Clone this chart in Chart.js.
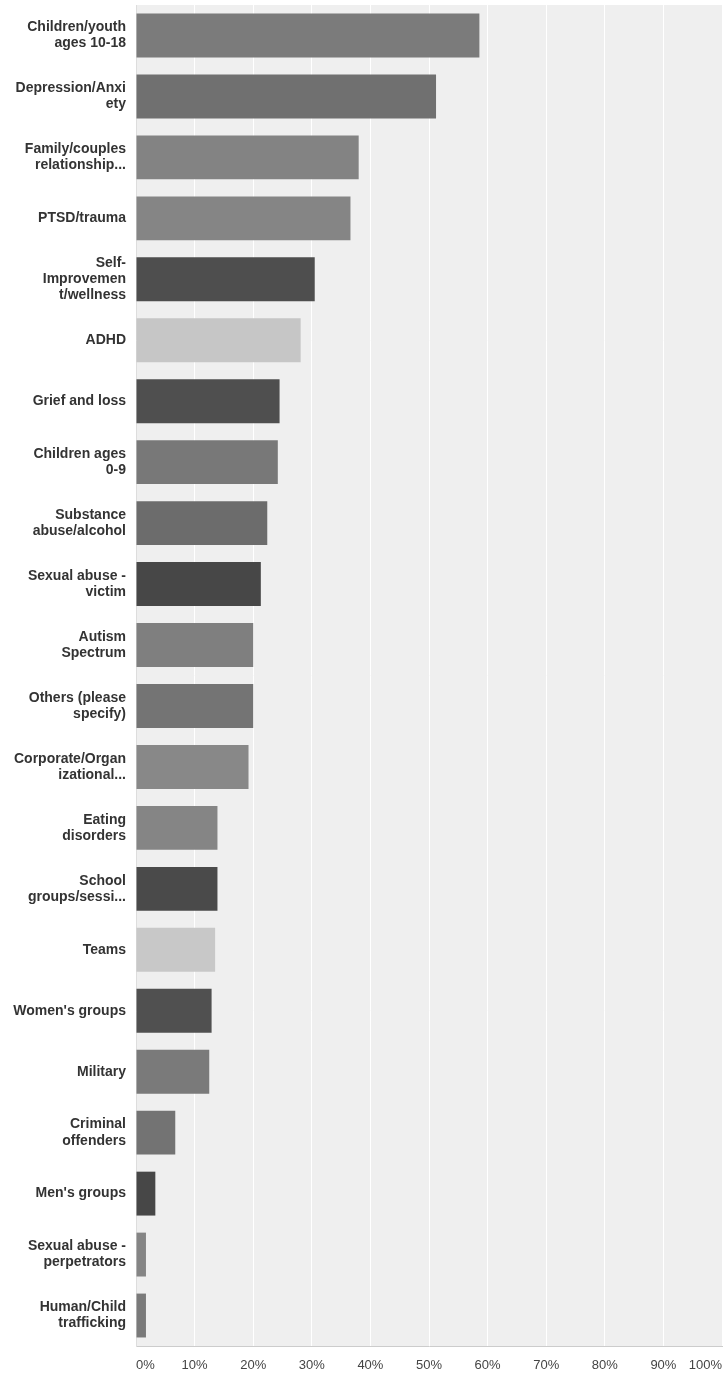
<!DOCTYPE html>
<html>
<head>
<meta charset="utf-8">
<script src="https://cdn.jsdelivr.net/npm/chart.js@4"></script>
<style>
  html, body { margin: 0; padding: 0; background: #ffffff; }
  #wrap { width: 723px; height: 1377px; position: relative; }
</style>
</head>
<body>
<div id="wrap"><canvas id="c"></canvas></div>
<script>
const categories = [
  ["Children/youth", "ages 10-18"],
  ["Depression/Anxi", "ety"],
  ["Family/couples", "relationship..."],
  "PTSD/trauma",
  ["Self-", "Improvemen", "t/wellness"],
  "ADHD",
  "Grief and loss",
  ["Children ages", "0-9"],
  ["Substance", "abuse/alcohol"],
  ["Sexual abuse -", "victim"],
  ["Autism", "Spectrum"],
  ["Others (please", "specify)"],
  ["Corporate/Organ", "izational..."],
  ["Eating", "disorders"],
  ["School", "groups/sessi..."],
  "Teams",
  "Women's groups",
  "Military",
  ["Criminal", "offenders"],
  "Men's groups",
  ["Sexual abuse -", "perpetrators"],
  ["Human/Child", "trafficking"]
];

const values = [58.6, 51.2, 38.0, 36.6, 30.5, 28.1, 24.5, 24.2, 22.4, 21.3, 20.0, 20.0, 19.2, 13.9, 13.9, 13.5, 12.9, 12.5, 6.7, 3.3, 1.7, 1.7];

const tickValues = [0, 10, 20, 30, 40, 50, 60, 70, 80, 90, 100];

const barColors = [
  "#7b7b7b", "#707070", "#838383", "#858585", "#4e4e4e", "#c6c6c6",
  "#4f4f4f", "#787878", "#6c6c6c", "#474747", "#7f7f7f", "#747474",
  "#888888", "#858585", "#4a4a4a", "#c8c8c8", "#505050", "#7a7a7a",
  "#737373", "#474747", "#858585", "#7a7a7a"
];

const plotBg = {
  id: 'plotBg',
  beforeDraw(chart) {
    const a = chart.chartArea;
    const ctx = chart.ctx;
    ctx.save();
    ctx.fillStyle = '#efefef';
    ctx.fillRect(a.left, a.top, a.right - a.left, a.bottom - a.top);
    ctx.restore();
  }
};

new Chart(document.getElementById('c'), {
  type: 'bar',
  data: {
    labels: categories,
    datasets: [{
      data: values,
      backgroundColor: barColors,
      borderWidth: 0,
      barPercentage: 0.72,
      categoryPercentage: 1.0
    }]
  },
  plugins: [plotBg],
  options: {
    indexAxis: 'y',
    responsive: true,
    maintainAspectRatio: false,
    animation: false,
    layout: { padding: { top: 5, right: 1, bottom: 0, left: 0 } },
    plugins: {
      legend: { display: false },
      tooltip: { enabled: false }
    },
    scales: {
      x: {
        min: 0,
        max: 100,
        afterBuildTicks(scale) {
          scale.ticks = tickValues.map(v => ({ value: v }));
        },
        afterFit(scale) {
          scale.height = 31;
          scale.paddingLeft = 0;
          scale.paddingRight = 0;
        },
        ticks: {
          callback: v => v + '%',
          align: 'inner',
          padding: 12,
          color: '#444444',
          font: { family: "'Liberation Sans', Arial, sans-serif", size: 13 },
          maxRotation: 0,
          autoSkip: false
        },
        grid: {
          color: '#ffffff',
          lineWidth: 1,
          drawTicks: false
        },
        border: { display: true, color: '#cccccc', width: 1 }
      },
      y: {
        afterFit(scale) {
          scale.width = 136;
          scale.paddingTop = 0;
          scale.paddingBottom = 0;
        },
        ticks: {
          padding: 10,
          color: '#333333',
          autoSkip: false,
          font: { family: "'Liberation Sans', Arial, sans-serif", size: 14, weight: 'bold', lineHeight: 1.15 }
        },
        grid: { display: false, drawTicks: false },
        border: { display: true, color: '#dddddd', width: 1 }
      }
    }
  }
});
</script>
</body>
</html>
